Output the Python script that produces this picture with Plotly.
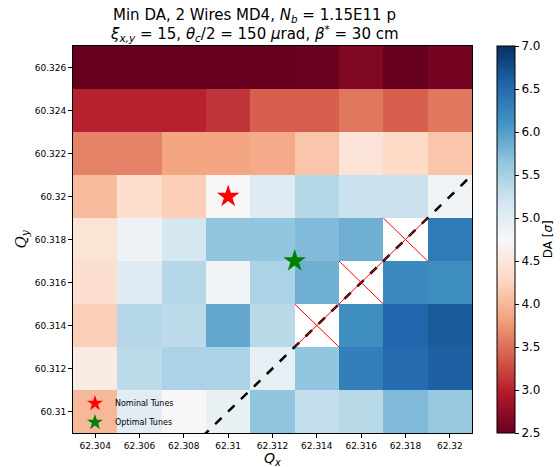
import numpy as np
import plotly.graph_objects as go

# Tune scan grid
qx = [62.304, 62.306, 62.308, 62.310, 62.312, 62.314, 62.316, 62.318, 62.320]
qy = [60.310, 60.312, 60.314, 60.316, 60.318, 60.320, 60.322, 60.324, 60.326]

# Minimum dynamic aperture [sigma], rows follow qy (bottom to top); None = lost / no result
da_min = [
    [4.00, 5.00, 4.75, 4.90, 5.65, 5.30, 5.37, 5.75, 5.60],   # 60.310
    [4.55, 5.35, 5.47, 5.47, 4.95, 5.65, 6.30, 6.50, 6.60],   # 60.312
    [4.20, 5.40, 5.35, 5.92, 5.37, None, 6.15, 6.55, 6.65],   # 60.314
    [4.37, 5.05, 5.40, 4.85, 5.47, 5.85, None, 6.20, 6.15],   # 60.316
    [4.43, 4.87, 5.15, 5.65, 5.65, 5.74, 5.85, None, 6.35],   # 60.318
    [4.03, 4.35, 4.20, 4.75, 5.05, 5.40, 5.25, 5.25, 4.85],   # 60.320
    [3.62, 3.62, 3.85, 3.85, 3.90, 4.12, 4.45, 4.30, 4.12],   # 60.322
    [3.00, 3.00, 3.00, 3.13, 3.40, 3.40, 3.55, 3.40, 3.55],   # 60.324
    [2.50, 2.50, 2.50, 2.50, 2.50, 2.52, 2.65, 2.50, 2.58],   # 60.326
]

nominal_tunes = (62.310, 60.320)
optimal_tunes = (62.313, 60.317)
resonance_diff = 2.0   # coupling resonance Qx - Qy = 2
zmin, zmax = 2.5, 7.0

rdbu = ["#67001f", "#b2182b", "#d6604d", "#f4a582", "#fddbc7", "#f7f7f7",
        "#d1e5f0", "#92c5de", "#4393c3", "#2166ac", "#053061"]
colorscale = [[i / 10, c] for i, c in enumerate(rdbu)]

z = np.array([[np.nan if v is None else v for v in row] for row in da_min])
half = (qx[1] - qx[0]) / 2

fig = go.Figure()
fig.add_trace(go.Heatmap(
    x=qx, y=qy, z=z, zmin=zmin, zmax=zmax, colorscale=colorscale,
    showlegend=False, hoverongaps=False,
    colorbar=dict(
        x=1.0627, xanchor="left", y=0.5, yanchor="middle", len=1.0, lenmode="fraction",
        thickness=18, thicknessmode="pixels", outlinewidth=1, outlinecolor="black",
        xpad=0, ypad=0,
        tickvals=[2.5 + 0.5 * i for i in range(10)],
        ticktext=[f"{2.5 + 0.5 * i:.1f}" for i in range(10)],
        ticks="outside", ticklen=4, tickcolor="black",
        tickfont=dict(family="DejaVu Sans", size=12, color="black"),
    ),
))

# Cross out cells without a result
shapes = []
for j, yv in enumerate(qy):
    for i, xv in enumerate(qx):
        if da_min[j][i] is None:
            for (x0, y0, x1, y1) in [(xv - half, yv - half, xv + half, yv + half),
                                     (xv - half, yv + half, xv + half, yv - half)]:
                shapes.append(dict(type="line", xref="x", yref="y", x0=x0, y0=y0,
                                   x1=x1, y1=y1, line=dict(color="red", width=1)))

# Resonance line
x_lo, x_hi = qx[0] - half, qx[-1] + half
fig.add_trace(go.Scatter(
    x=[x_lo, x_hi], y=[x_lo - resonance_diff, x_hi - resonance_diff], mode="lines",
    line=dict(color="black", width=2.5, dash="dash"), showlegend=False, hoverinfo="skip",
))

fig.add_trace(go.Scatter(
    x=[nominal_tunes[0]], y=[nominal_tunes[1]], mode="markers", name="Nominal Tunes",
    marker=dict(symbol="star", size=17, color="red", line=dict(width=0)),
))
fig.add_trace(go.Scatter(
    x=[optimal_tunes[0]], y=[optimal_tunes[1]], mode="markers", name="Optimal Tunes",
    marker=dict(symbol="star", size=17, color="green", line=dict(width=0)),
))

def fmt(v):
    return f"{v:.3f}".rstrip("0")

axis_common = dict(
    showgrid=False, zeroline=False, showline=True, linecolor="black", linewidth=1,
    mirror=True, ticks="outside", ticklen=4, tickcolor="black",
    tickfont=dict(family="DejaVu Sans", size=9, color="black"),
)

title_lines = [
    "Min DA, 2 Wires MD4, <i>N</i><sub><i>b</i></sub> = 1.15E11 p",
    "<i>ξ</i><sub><i>x,y</i></sub> = 15, <i>θ</i><sub><i>c</i></sub>/2 = 150 "
    "<i>μ</i>rad, <i>β</i><sup>*</sup> = 30 cm",
]

def label(text, x, y, size=15, family="DejaVu Sans", angle=0):
    return dict(text=text, xref="paper", yref="paper", x=x, y=y, textangle=angle,
                xanchor="center", yanchor="middle", showarrow=False,
                font=dict(family=family, size=size, color="black"))

fig.update_layout(
    width=560, height=467,
    margin=dict(l=73, r=88, t=46, b=34, autoexpand=False),
    paper_bgcolor="white", plot_bgcolor="white",
    font=dict(family="DejaVu Sans", color="black"),
    shapes=shapes,
    xaxis=dict(axis_common, range=[x_lo, x_hi], tickvals=qx, ticktext=[fmt(v) for v in qx]),
    yaxis=dict(axis_common, range=[qy[0] - half, qy[-1] + half], tickvals=qy,
               ticktext=[fmt(v) for v in qy]),
    legend=dict(x=0.005, y=-0.01, xanchor="left", yanchor="bottom",
                bgcolor="rgba(0,0,0,0)", borderwidth=0,
                font=dict(family="DejaVu Sans", size=8, color="black"),
                itemsizing="constant", tracegroupgap=0),
    annotations=[
        label("DA [<i>σ</i>]", 1.19, 0.5, size=12, angle=-90),
        label(title_lines[0], 0.455, 1.0 + 31 / 387),
        label(title_lines[1], 0.455, 1.0 + 13 / 387),
        label("<i>Q</i><sub><i>x</i></sub>", 0.5, -26 / 387, size=14),
        label("<i>Q</i><sub><i>y</i></sub>", -52 / 399, 0.5, size=15,
              family="DejaVu Serif", angle=-90),
    ],
)

fig.write_html("out.html")
